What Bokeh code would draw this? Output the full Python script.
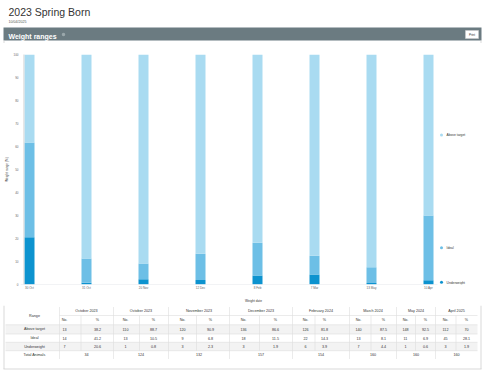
from bokeh.plotting import figure
from bokeh.layouts import column
from bokeh.models import Range1d, FixedTicker, ColumnDataSource, BoxAnnotation
from bokeh.core.properties import value
from bokeh.embed import file_html
from bokeh.resources import INLINE

# ---------------- data ----------------
title = "2023 Spring Born"
report_date = "10/04/2025"
panel_title = "Weight ranges"
date_labels = ["30 Oct", "31 Oct", "20 Nov", "12 Dec", "8 Feb", "7 Mar", "13 May", "10 Apr"]
month_labels = ["October 2023", "October 2023", "November 2023", "December 2023",
                "February 2024", "March 2024", "May 2024", "April 2025"]
range_names = ["Above target", "Ideal", "Underweight"]
above_target = [13, 110, 120, 136, 126, 140, 148, 112]
ideal = [14, 13, 9, 18, 22, 13, 11, 45]
underweight = [7, 1, 3, 3, 6, 7, 1, 3]
y_ticks = [0, 10, 20, 30, 40, 50, 60, 70, 80, 90, 100]

C_ABOVE, C_IDEAL, C_UNDER = "#a9dbf1", "#6dbfe6", "#0d93cf"
FONT = value("Liberation Sans")
W = 486
BORDER = "#cfcfcf"
PL, PR = 3, 481          # panel left / right (page px)

totals = [a + i + u for a, i, u in zip(above_target, ideal, underweight)]
pct_above = [100.0 * a / t for a, t in zip(above_target, totals)]
pct_ideal = [100.0 * a / t for a, t in zip(ideal, totals)]
pct_under = [100.0 * a / t for a, t in zip(underweight, totals)]


def fmt(v):
    s = f"{v:.1f}"
    return s[:-2] if s.endswith(".0") else s


def txt(fig, x, y, s, size, color="#333333", align="left", baseline="middle", style="normal"):
    fig.text(x=[x], y=[y], text=[s], text_font=FONT, text_font_size=value(size),
             text_color=color, text_align=align, text_baseline=baseline,
             text_font_style=style)


def blank(fig):
    fig.xgrid.visible = False
    fig.ygrid.visible = False


# ---------------- header (page y 0..43) ----------------
h = figure(width=W, height=43, x_range=Range1d(0, W), y_range=Range1d(43, 0),
           output_backend="svg", toolbar_location=None, min_border=0,
           x_axis_type=None, y_axis_type=None, outline_line_color=None,
           frame_align=False)
blank(h)
txt(h, 8, 11.5, title, "10.5px", color="#333333", baseline="alphabetic")
txt(h, 8, 21, report_date, "3.6px", color="#555555", baseline="alphabetic")
h.quad(left=[PL], right=[PR], top=[27], bottom=[40], fill_color="#6b7b81", line_color=None)
txt(h, 8, 35.8, panel_title, "7px", color="#ffffff", style="bold", baseline="alphabetic")
h.scatter(x=[63], y=[34], size=3.5, fill_color="#9aa7ab", line_color=None)
h.quad(left=[465], right=[478], top=[30], bottom=[38], fill_color="#ffffff",
       line_color="#cccccc", line_width=0.6)
txt(h, 471.5, 34, "Print", "3px", color="#333333", align="center")
h.segment(x0=[PL + 0.5, PR - 0.5], x1=[PL + 0.5, PR - 0.5], y0=[40, 40], y1=[43, 43],
          line_color=BORDER, line_width=0.8)

# ---------------- main chart (page y 43..305) ----------------
n = len(date_labels)
xs = list(range(n))
step = 57.0
frame_left = 20          # page px
first_center = 29        # page px
x_start = -(first_center - frame_left) / step
x_end = x_start + (W - frame_left) / step

p = figure(width=W, height=262, x_range=Range1d(x_start, x_end), y_range=Range1d(0, 100),
           output_backend="svg", toolbar_location=None, min_border_left=frame_left,
           min_border_right=0, min_border_top=11, min_border_bottom=17,
           outline_line_color=None, frame_align=False)
blank(p)
src = ColumnDataSource(dict(x=xs, under=pct_under, ideal=pct_ideal, above=pct_above))
p.vbar_stack(["under", "ideal", "above"], x="x", width=10 / step, source=src,
             fill_color=[C_UNDER, C_IDEAL, C_ABOVE], line_color=None)

# baseline
p.segment(x0=[xs[0] - 9 / step], x1=[xs[-1] + 9 / step], y0=[0], y1=[0],
          line_color="#d8dde3", line_width=0.7)

p.xaxis.ticker = FixedTicker(ticks=xs)
p.xaxis.major_label_overrides = {i: lab for i, lab in zip(xs, date_labels)}
p.yaxis.ticker = FixedTicker(ticks=y_ticks)
for ax in (p.xaxis[0], p.yaxis[0]):
    ax.axis_line_color = None
    ax.major_tick_line_color = None
    ax.minor_tick_line_color = None
    ax.major_tick_out = 0
    ax.major_tick_in = 0
    ax.minor_tick_out = 0
    ax.minor_tick_in = 0
    ax.major_label_text_font = "Liberation Sans"
    ax.major_label_text_font_size = "3px"
    ax.major_label_text_color = "#666666"
    ax.axis_label_text_font = "Liberation Sans"
    ax.axis_label_text_font_size = "3.2px"
    ax.axis_label_text_font_style = "normal"
    ax.axis_label_text_color = "#333333"
    ax.major_label_standoff = 2
p.xaxis.axis_label_standoff = 6
p.yaxis.axis_label_standoff = 2
p.xaxis.axis_label = "Weight date"
p.yaxis.axis_label = "Weight range (%)"

# panel side borders across the whole chart height
for lx in (PL, PR - 1):
    p.add_layout(BoxAnnotation(left=lx, right=lx + 0.8, top=0, bottom=262,
                               left_units="screen", right_units="screen",
                               top_units="screen", bottom_units="screen",
                               fill_color=BORDER, fill_alpha=1.0, line_color=None))

# legend labels placed at the middle of the last bar's segments
last = n - 1
mids = [pct_under[last] + pct_ideal[last] + pct_above[last] / 2,
        pct_under[last] + pct_ideal[last] / 2,
        pct_under[last] / 2]
for name, col, ym_ in zip(range_names, [C_ABOVE, C_IDEAL, C_UNDER], mids):
    p.scatter(x=[last + 13 / step], y=[ym_], size=3, fill_color=col, line_color=None)
    txt(p, last + 18 / step, ym_, name, "3.3px", color="#333333")

# ---------------- table (page y 305..373) ----------------
t = figure(width=W, height=68, x_range=Range1d(0, W), y_range=Range1d(373, 305),
           output_backend="svg", toolbar_location=None, min_border=0,
           x_axis_type=None, y_axis_type=None, outline_line_color=None,
           frame_align=False)
blank(t)
edges = [5, 59, 113, 168, 229, 292, 349, 396, 435, 477]
no_x = [64, 125, 182, 243, 305, 358, 405, 445]
pc_x = [97, 153, 210, 275, 324, 383, 425, 466]
rows = [306.5, 315, 324.3, 333.5, 341.8, 350.2, 358.5]
LC = "#dddddd"

# striped rows
t.quad(left=[edges[0], edges[0]], right=[edges[-1], edges[-1]],
       top=[rows[2], rows[4]], bottom=[rows[3], rows[5]],
       fill_color="#f3f3f3", line_color=None)
# horizontal lines
for k, yv in enumerate(rows[1:-1], start=1):
    x0 = edges[1] if k == 1 else edges[0]
    t.segment(x0=[x0], x1=[edges[-1]], y0=[yv], y1=[yv], line_color=LC, line_width=0.6)
# vertical lines
for e in edges[1:-1]:
    t.segment(x0=[e], x1=[e], y0=[rows[0]], y1=[rows[-1]], line_color=LC, line_width=0.6)
for a, b in zip(no_x, pc_x):
    s = (a + b) / 2
    t.segment(x0=[s], x1=[s], y0=[rows[1]], y1=[rows[5]], line_color=LC, line_width=0.6)

FS = "3.7px"
ym = [(rows[k] + rows[k + 1]) / 2 for k in range(len(rows) - 1)]
rc = 34
txt(t, rc, (rows[0] + rows[2]) / 2, "Range", FS, align="center")
for name, yv in zip(range_names, ym[2:5]):
    txt(t, rc, yv, name, FS, align="center")
txt(t, rc, ym[5], "Total Animals", FS, align="center")

series = [above_target, ideal, underweight]
pcts = [pct_above, pct_ideal, pct_under]
for g in range(n):
    gc = (edges[g + 1] + edges[g + 2]) / 2
    txt(t, gc, ym[0], month_labels[g], FS, align="center")
    txt(t, no_x[g], ym[1], "No.", FS, align="center")
    txt(t, pc_x[g], ym[1], "%", FS, align="center")
    for r in range(3):
        txt(t, no_x[g], ym[2 + r], str(series[r][g]), FS, align="center")
        txt(t, pc_x[g], ym[2 + r], fmt(pcts[r][g]), FS, align="center")
    txt(t, gc, ym[5], str(totals[g]), FS, align="center")

# panel border (left, right & bottom)
t.segment(x0=[PL + 0.5, PR - 0.5, PL], x1=[PL + 0.5, PR - 0.5, PR],
          y0=[305, 305, 368.5], y1=[368.5, 368.5, 368.5],
          line_color=BORDER, line_width=0.8)

layout = column(h, p, t, spacing=0)
open("out.html", "w").write(file_html(layout, INLINE))
